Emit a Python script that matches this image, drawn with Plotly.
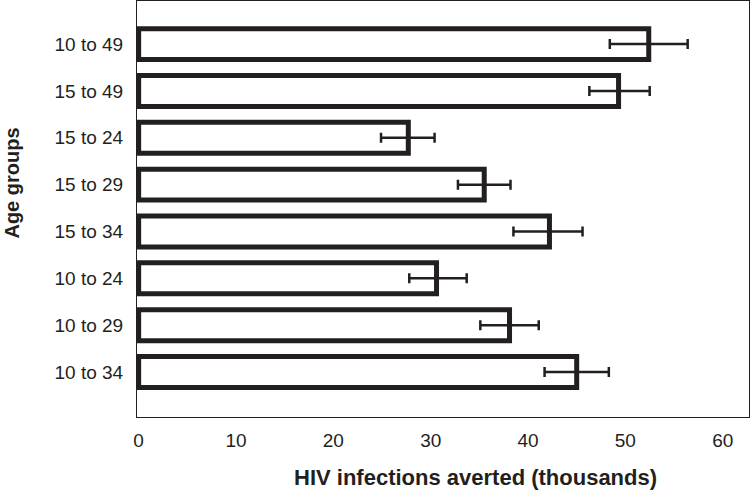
"""Horizontal bar chart of HIV infections averted by age group."""
import plotly.graph_objects as go

# data (bottom to top)
age_groups = ["10 to 34", "10 to 29", "10 to 24", "15 to 34",
              "15 to 29", "15 to 24", "15 to 49", "10 to 49"]
averted = [45.0, 38.1, 30.6, 42.2, 35.5, 27.7, 49.3, 52.4]
err_plus = [3.3, 3.0, 3.1, 3.4, 2.7, 2.7, 3.2, 4.0]
err_minus = [3.3, 3.0, 2.8, 3.7, 2.7, 2.8, 3.0, 4.0]
x_ticks = [0, 10, 20, 30, 40, 50, 60]

INK = "#231f20"
FONT = "Liberation Sans, Arial, sans-serif"

fig = go.Figure()

fig.add_trace(go.Bar(
    x=averted,
    y=age_groups,
    orientation='h',
    width=0.66,
    marker=dict(color='white', line=dict(color=INK, width=5)),
    error_x=dict(type='data', symmetric=False, array=err_plus,
                 arrayminus=err_minus, color=INK, thickness=2.5, width=5),
    showlegend=False,
    cliponaxis=False,
))

fig.update_layout(
    width=752,
    height=494,
    margin=dict(l=137, r=3, t=1, b=77, autoexpand=False),
    paper_bgcolor='white',
    plot_bgcolor='white',
    font=dict(family=FONT, color=INK),
    annotations=[
        dict(text="<b>HIV infections averted (thousands)</b>",
             xref='paper', yref='paper', x=0.553, y=-0.1466,
             xanchor='center', yanchor='middle',
             showarrow=False, font=dict(size=22, color=INK)),
        dict(text="<b>Age groups</b>", textangle=-90,
             xref='paper', yref='paper', x=-0.205, y=0.5625,
             xanchor='center', yanchor='middle',
             showarrow=False, font=dict(size=20, color=INK)),
    ],
)

fig.update_xaxes(
    range=[-0.17, 62.7],
    tickvals=x_ticks,
    automargin=False,
    ticklabeloverflow='allow',
    showgrid=False,
    zeroline=False,
    showline=True, linecolor=INK, linewidth=1, mirror=True,
    ticks='', ticklabelstandoff=6,
    tickfont=dict(size=19, color=INK),
)
fig.update_yaxes(
    type='category',
    categoryorder='array',
    categoryarray=age_groups,
    range=[-0.96, 7.92],
    automargin=False,
    showgrid=False,
    showline=True, linecolor=INK, linewidth=1, mirror=True,
    ticks='', ticklabelstandoff=9,
    tickfont=dict(size=19, color=INK),
)

# the page's default body margin would shift the chart by 8px
fig.write_html("out.html", config={'displayModeBar': False},
               post_script="document.body.style.margin='0';")
